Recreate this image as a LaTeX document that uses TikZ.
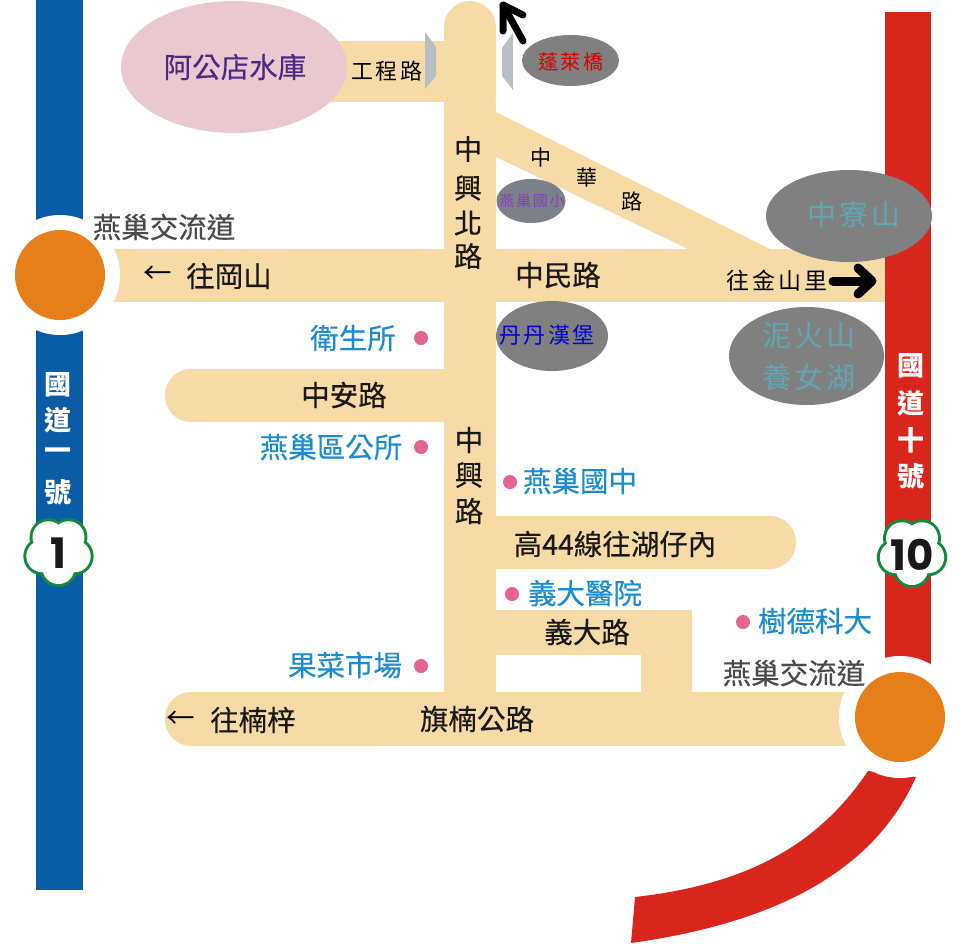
\documentclass[tikz,border=0pt]{standalone}
\usepackage{fontspec}
\newfontfamily\cjk[FakeBold=0.35]{Noto Sans CJK TC}
\newfontfamily\cjkp{Noto Sans CJK TC}
\newfontfamily\cjkw[LetterSpace=12]{Noto Sans CJK TC}
\newfontfamily\digitfont{Poppins}
\definecolor{roadc}{HTML}{F7DBA6}
\definecolor{bluebar}{HTML}{0A5CA6}
\definecolor{redbar}{HTML}{D9261C}
\definecolor{orangec}{HTML}{E67E1A}
\definecolor{pinkell}{HTML}{E9C9CF}
\definecolor{greyell}{HTML}{808080}
\definecolor{greyschool}{HTML}{7C8088}
\definecolor{greyboard}{HTML}{B9BDC4}
\definecolor{greenc}{HTML}{128A3C}
\definecolor{placeblue}{HTML}{1B8CCF}
\definecolor{dotpink}{HTML}{E4658F}
\definecolor{tealt}{HTML}{5FA6B0}
\definecolor{purplet}{HTML}{8A3FC0}
\definecolor{darkt}{HTML}{4A4A4A}
\definecolor{titlep}{HTML}{4B2A85}
\tikzset{
  x=1pt,y=-1pt,
  lab/.style={inner sep=0pt,outer sep=0pt,font=\cjk\fontsize{#1}{#1}\selectfont,text=black!90},
  lab/.default=28.5,
  plain/.style={inner sep=0pt,outer sep=0pt,font=\cjkp\fontsize{#1}{#1}\selectfont,text=black},
  plain/.default=28.5,
  wide/.style={inner sep=0pt,outer sep=0pt,font=\cjkw\fontsize{#1}{#1}\selectfont,text=black},
  wide/.default=21,
  road/.style={fill=roadc},
  place/.style={lab,text=placeblue},
  exch/.style={lab,text=darkt},
  shieldl/.style={inner sep=0pt,font=\cjkp\bfseries\fontsize{27}{27}\selectfont,text=white},
  numl/.style={inner sep=0pt,font=\digitfont\bfseries\fontsize{42}{42}\selectfont,text=black!90},
  pdot/.style={circle,fill=dotpink,inner sep=0pt,minimum size=14pt},
  hill/.style={ellipse,fill=greyell,inner sep=0pt},
}
\usetikzlibrary{shapes.geometric,calc}
\newcommand{\badge}[2]{%
  \foreach \a in {90,162,234,306,378}{\fill[greenc] ($(#1,#2)+(\a:17)$) circle[radius=19];}
  \foreach \a in {90,162,234,306,378}{\fill[white] ($(#1,#2)+(\a:17)$) circle[radius=16];}
  \fill[white] (#1,#2) circle[radius=18];
}
\begin{document}
\begin{tikzpicture}
\useasboundingbox (0,0) rectangle (960,943);
\fill[white] (0,0) rectangle (960,943);
% highways
\fill[bluebar] (36,0) rectangle (83,890);
\fill[redbar] (885,12) rectangle (931,680);
\fill[redbar] (868,771) .. controls (815,850) and (740,885) .. (635,897) -- (631,943) .. controls (760,925) and (870,880) .. (916,777) -- cycle;
% roads
\fill[road,rounded corners=26pt] (444,120) -- (444,1) -- (496,1) -- (496,120) -- cycle;
\fill[road] (444,100) rectangle (496,692);
\fill[road] (330,41) rectangle (444,102);
\fill[road] (100,249) rectangle (885,302);
\fill[road] (496,112) -- (770,249) -- (690,250) -- (496,157) -- cycle;
\fill[road,rounded corners=26pt] (480,369) -- (165,369) -- (165,422) -- (480,422) -- cycle;
\fill[road,rounded corners=26pt] (460,516) -- (796,516) -- (796,569) -- (460,569) -- cycle;
\fill[road] (496,610) rectangle (692,655);
\fill[road] (641,650) rectangle (692,700);
\fill[road,rounded corners=26pt] (400,692) -- (165,692) -- (165,746) -- (400,746) -- cycle;
\fill[road] (360,692) rectangle (870,746);
% interchange rings
\fill[white] (60,275) circle[radius=60];
\fill[white] (900,717) circle[radius=61];
\fill[orangec] (60,275) circle[radius=45];
\fill[orangec] (900,717) circle[radius=45];
% ellipses
\node[ellipse,fill=pinkell,minimum width=226pt,minimum height=132pt,inner sep=0pt] (reservoir) at (234,67) {};
\node[hill,minimum width=97pt,minimum height=51pt] (bridge) at (570.5,60.5) {};
\node[hill,fill=greyschool,minimum width=69pt,minimum height=44pt] (school) at (531,201) {};
\node[hill,minimum width=166pt,minimum height=92pt] (zl) at (849,216) {};
\node[hill,minimum width=155pt,minimum height=98pt] (nh) at (806.5,356) {};
\node[hill,minimum width=112pt,minimum height=70pt] (dd) at (552,336) {};
% bridge boards
\fill[greyboard] (425,32) -- (436,47) -- (436,76) -- (425,89) -- cycle;
\fill[greyboard] (513,33) -- (502,48) -- (502,76) -- (513,90) -- cycle;
% black arrows
\draw[line width=7pt,line cap=round,line join=round] (523,41) -- (503,5);
\draw[line width=7pt,line cap=round,line join=round] (503,31) -- (503,5) -- (523,15);
\draw[line width=9pt,line cap=round,line join=round] (833,281) -- (871,281);
\draw[line width=9pt,line cap=round,line join=round] (858,268) -- (872,281) -- (858,294);
% badges
\badge{58.5}{551}
\badge{912}{552}
\node[numl] (n1) at (58,553) {1};
\node[numl] (n10) at (912,555) {10};
% shield labels
\node[shieldl] (s1) at (58,385) {國};
\node[shieldl] (s2) at (58,420) {道};
\node[shieldl] (s3) at (58,454) {一};
\node[shieldl] (s4) at (58,492) {號};
\node[shieldl] (s5) at (911,366) {國};
\node[shieldl] (s6) at (911,403) {道};
\node[shieldl] (s7) at (911,440) {十};
\node[shieldl] (s8) at (911,476) {號};
% labels
\node[lab=28.5,text=titlep] (t0) at (235,67) {阿公店水庫};
\node[wide=22] (t1) at (387,71) {工程路};
\node[wide=20,text=red!85!black] (t2) at (571,62) {蓬萊橋};
\node[lab=28] (c1) at (468,149) {中};
\node[lab=28] (c2) at (468,188) {興};
\node[lab=28] (c3) at (468,223) {北};
\node[lab=28] (c4) at (468,256) {路};
\node[plain=21] (h1) at (541,158) {中};
\node[plain=21] (h2) at (587,178) {華};
\node[plain=21] (h3) at (632,201) {路};
\node[wide=15,text=purplet] (t3) at (532,201) {燕巢國小};
\node[lab] (t4) at (558,275) {中民路};
\node[plain] (t5) at (158,275) {←};
\node[lab] (t6) at (229,276) {往岡山};
\node[exch] (t7) at (164,227) {燕巢交流道};
\node[wide=23] (t8) at (777,281) {往金山里};
\node[wide=29,text=tealt] (t9) at (854,214) {中寮山};
\node[wide=29,text=tealt] (t10) at (809,336) {泥火山};
\node[wide=29,text=tealt] (t11) at (809,377) {養女湖};
\node[wide=22,text=blue!85!black] (t12) at (547,335) {丹丹漢堡};
\node[place] (t13) at (353,338) {衛生所};
\node[pdot] (d1) at (421,338) {};
\node[lab] (t14) at (344,395) {中安路};
\node[place] (t15) at (331,447) {燕巢區公所};
\node[pdot] (d2) at (421,447) {};
\node[lab] (c5) at (469,440) {中};
\node[lab] (c6) at (469,475) {興};
\node[lab] (c7) at (469,511) {路};
\node[place] (t16) at (580,481) {燕巢國中};
\node[pdot] (d3) at (510,482) {};
\node[lab] (t17) at (615,544) {高44線往湖仔內};
\node[place] (t18) at (585,593) {義大醫院};
\node[pdot] (d4) at (512,594) {};
\node[lab] (t19) at (587,632) {義大路};
\node[place] (t20) at (815,621) {樹德科大};
\node[pdot] (d5) at (743,622) {};
\node[exch] (t21) at (794,673) {燕巢交流道};
\node[place] (t22) at (345,665) {果菜市場};
\node[pdot] (d6) at (421,666) {};
\node[plain] (t23) at (181,720) {←};
\node[lab] (t24) at (253,720) {往楠梓};
\node[lab] (t25) at (477,719) {旗楠公路};
\end{tikzpicture}
\end{document}
